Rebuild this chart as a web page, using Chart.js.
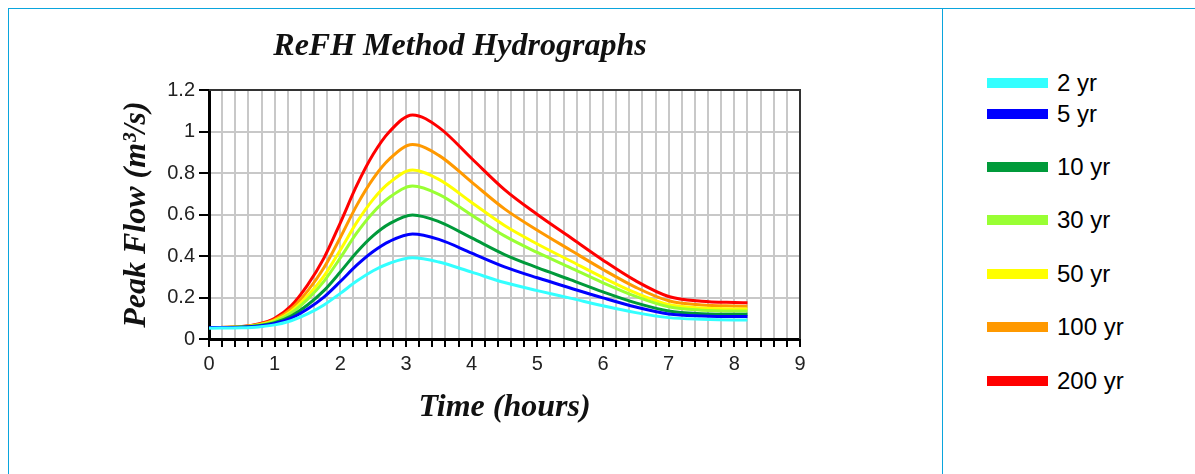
<!DOCTYPE html>
<html>
<head>
<meta charset="utf-8">
<script src="https://cdn.jsdelivr.net/npm/chart.js@4"></script>
<style>
  body { margin: 0; background: #fff; width: 1195px; height: 474px; overflow: hidden; position: relative; }
  .line-top { position: absolute; left: 8px; top: 8px; width: 1187px; height: 1px; background: #0aa5dd; }
  .line-left { position: absolute; left: 8px; top: 8px; width: 1px; height: 466px; background: #0aa5dd; }
  .line-mid { position: absolute; left: 942px; top: 8px; width: 1px; height: 466px; background: #0aa5dd; }
  #wrap { position: absolute; left: 0; top: 0; width: 920px; height: 474px; }
  #legend { position: absolute; left: 987px; top: 71px; font-family: "Liberation Sans", Arial, sans-serif; font-size: 24px; color: #000; }
  .row { height: 24px; display: flex; align-items: center; margin-top: 29.4px; }
  .row:first-child { margin-top: 0; }
  .row:nth-child(2) { margin-top: 6.6px; }
  .sw { width: 61px; height: 10px; margin-right: 9px; }
</style>
</head>
<body>
<div class="line-top"></div>
<div class="line-left"></div>
<div class="line-mid"></div>
<div id="wrap"><canvas id="hydroChart"></canvas></div>
<div id="legend"></div>
<script>
// time in hours
var times = [0, 0.5, 0.75, 1, 1.25, 1.5, 1.75, 2, 2.25, 2.5, 2.75, 3.1, 3.5, 4, 4.5, 5, 5.5, 6, 6.5, 7, 7.5, 8, 8.2];

// peak flow m3/s
var flow2 = [0.052, 0.054, 0.058, 0.068, 0.088, 0.121, 0.164, 0.220, 0.279, 0.329, 0.365, 0.391, 0.371, 0.322, 0.272, 0.233, 0.197, 0.160, 0.127, 0.103, 0.095, 0.092, 0.092];
var flow5 = [0.055, 0.057, 0.062, 0.075, 0.101, 0.145, 0.202, 0.277, 0.356, 0.422, 0.471, 0.506, 0.480, 0.414, 0.348, 0.295, 0.246, 0.198, 0.154, 0.121, 0.111, 0.108, 0.108];
var flow10 = [0.055, 0.058, 0.064, 0.079, 0.111, 0.164, 0.233, 0.323, 0.418, 0.498, 0.556, 0.598, 0.566, 0.487, 0.407, 0.344, 0.286, 0.227, 0.174, 0.135, 0.122, 0.119, 0.119];
var flow30 = [0.055, 0.058, 0.066, 0.085, 0.125, 0.191, 0.278, 0.391, 0.511, 0.610, 0.683, 0.737, 0.697, 0.597, 0.497, 0.417, 0.344, 0.271, 0.205, 0.155, 0.139, 0.135, 0.135];
var flow50 = [0.055, 0.059, 0.068, 0.088, 0.133, 0.207, 0.303, 0.429, 0.562, 0.673, 0.754, 0.814, 0.769, 0.658, 0.547, 0.458, 0.377, 0.296, 0.222, 0.166, 0.149, 0.145, 0.144];
var flow100 = [0.055, 0.059, 0.070, 0.094, 0.145, 0.231, 0.343, 0.489, 0.644, 0.773, 0.868, 0.937, 0.885, 0.756, 0.627, 0.524, 0.429, 0.335, 0.249, 0.184, 0.164, 0.159, 0.158];
var flow200 = [0.055, 0.060, 0.072, 0.100, 0.160, 0.260, 0.390, 0.560, 0.740, 0.890, 1.000, 1.080, 1.020, 0.870, 0.720, 0.600, 0.490, 0.380, 0.280, 0.205, 0.182, 0.176, 0.175];

var seriesNames = ["2 yr", "5 yr", "10 yr", "30 yr", "50 yr", "100 yr", "200 yr"];
var seriesData = [flow2, flow5, flow10, flow30, flow50, flow100, flow200];
var seriesColors = ["#33ffff", "#0000ff", "#009a3a", "#99ff33", "#ffff00", "#ff9900", "#ff0000"];

var datasets = [];
for (var i = 0; i < seriesData.length; i++) {
    datasets.push({
        label: seriesNames[i],
        data: times.map(function (t, j) { return { x: t, y: seriesData[i][j] }; }),
        borderColor: seriesColors[i],
        borderWidth: 3,
        pointRadius: 0,
        fill: false,
        cubicInterpolationMode: "monotone"
    });
}

// legend sits in its own cell on the right
var legendBox = document.getElementById("legend");
for (var k = 0; k < seriesNames.length; k++) {
    legendBox.innerHTML += "<div class='row'><div class='sw' style='background:" + seriesColors[k] + "'></div><span>" + seriesNames[k] + "</span></div>";
}

var serif = "'Liberation Serif', 'Times New Roman', serif";
var sans = "'Liberation Sans', Arial, sans-serif";
var titleFont = { family: serif, size: 32, style: "italic", weight: "bold" };

// top and right edges of the plot box
var boxEdges = {
    id: "boxEdges",
    beforeDatasetsDraw: function (chart) {
        var a = chart.chartArea;
        var ctx = chart.ctx;
        ctx.save();
        ctx.strokeStyle = "#333";
        ctx.lineWidth = 2;
        ctx.beginPath();
        ctx.moveTo(a.left, a.top);
        ctx.lineTo(a.right, a.top);
        ctx.lineTo(a.right, a.bottom);
        ctx.stroke();
        ctx.restore();
    }
};

new Chart(document.getElementById("hydroChart"), {
    type: "line",
    data: { datasets: datasets },
    plugins: [boxEdges],
    options: {
        responsive: true,
        maintainAspectRatio: false,
        animation: false,
        layout: { padding: 0 },
        plugins: {
            legend: { display: false },
            tooltip: { enabled: false },
            title: {
                display: true,
                text: "ReFH Method Hydrographs",
                color: "#111",
                font: titleFont,
                padding: { top: 28, bottom: 23.6 }
            }
        },
        scales: {
            x: {
                type: "linear",
                min: 0,
                max: 9,
                afterFit: function (s) { s.height = 135; },
                ticks: {
                    stepSize: 0.2,
                    autoSkip: false,
                    maxRotation: 0,
                    padding: 5,
                    color: "#222",
                    font: { family: sans, size: 20 },
                    callback: function (v) {
                        return Math.abs(v - Math.round(v)) < 1e-6 ? String(Math.round(v)) : "";
                    }
                },
                grid: { color: "#c8c8c8", lineWidth: 2, tickColor: "#000", tickWidth: 2, tickLength: 8 },
                border: { color: "#000", width: 3 },
                title: {
                    display: true,
                    text: "Time (hours)",
                    color: "#111",
                    font: titleFont,
                    padding: { top: 0, bottom: 47 }
                }
            },
            y: {
                min: 0,
                max: 1.2,
                afterFit: function (s) { s.width = 209; },
                ticks: {
                    stepSize: 0.2,
                    padding: 4,
                    color: "#222",
                    font: { family: sans, size: 20 },
                    callback: function (v) { return String(Math.round(v * 10) / 10); }
                },
                grid: { color: "#c8c8c8", lineWidth: 2, tickColor: "#000", tickWidth: 2, tickLength: 10 },
                border: { color: "#000", width: 3 },
                title: {
                    display: true,
                    text: "Peak Flow (m³/s)",
                    color: "#111",
                    font: titleFont,
                    padding: { top: 118, bottom: 0 }
                }
            },
            // empty right axis, only keeps space so the title centres like the original
            yRight: {
                position: "right",
                display: true,
                min: 0,
                max: 1,
                afterFit: function (s) { s.width = 120; },
                ticks: { display: false },
                grid: { display: false },
                border: { display: false }
            }
        }
    }
});
</script>
</body>
</html>
